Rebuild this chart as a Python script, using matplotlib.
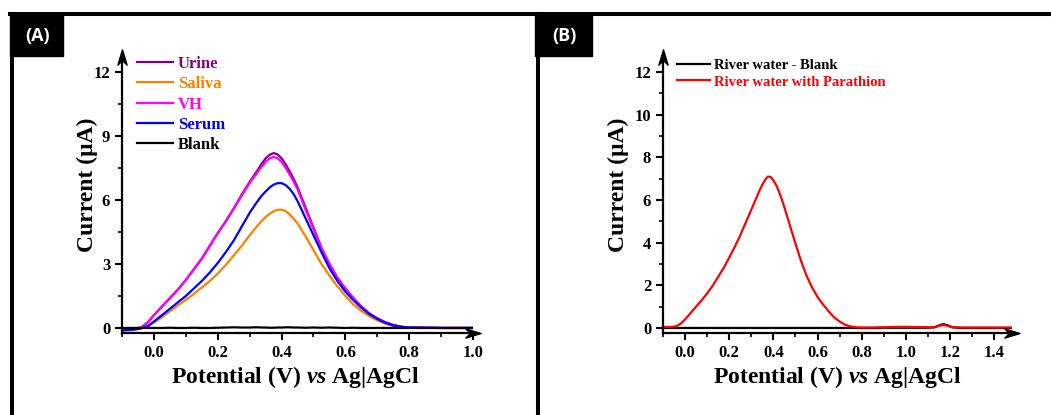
import matplotlib
matplotlib.use("Agg")
import matplotlib.pyplot as plt
from matplotlib.lines import Line2D
from matplotlib.patches import Rectangle
from matplotlib.path import Path
from matplotlib.ticker import MultipleLocator, FormatStrFormatter

plt.rcParams['font.family'] = 'Liberation Serif'
plt.rcParams['font.weight'] = 'bold'
plt.rcParams['mathtext.fontset'] = 'custom'
plt.rcParams['mathtext.it'] = 'Liberation Serif:italic:bold'
plt.rcParams['mathtext.rm'] = 'Liberation Serif:bold'

# ---- (A) DPV in biological fluids ----
pot_a = [-0.10, -0.06, -0.04, -0.02, 0.0, 0.025, 0.05, 0.075, 0.10, 0.125,
         0.15, 0.175, 0.20, 0.225, 0.25, 0.275, 0.30, 0.3125, 0.325, 0.3375,
         0.35, 0.3625, 0.375, 0.3875, 0.40, 0.4125, 0.425, 0.4375, 0.45, 0.475,
         0.50, 0.525, 0.55, 0.575, 0.60, 0.625, 0.65, 0.675, 0.70, 0.725,
         0.75, 0.775, 0.80, 0.85, 0.90, 1.00]

urine = [-0.05, -0.02, 0.02, 0.25, 0.6, 1.0, 1.4, 1.8, 2.25, 2.75,
         3.25, 3.85, 4.45, 5.0, 5.6, 6.25, 6.85, 7.13, 7.4, 7.7,
         7.95, 8.12, 8.2, 8.14, 7.95, 7.68, 7.35, 7.0, 6.6, 5.65,
         4.7, 3.75, 3.0, 2.35, 1.85, 1.4, 1.0, 0.68, 0.45, 0.27,
         0.14, 0.06, 0.02, 0.01, 0.0, 0.0]

saliva = [-0.05, -0.03, 0.0, 0.08, 0.25, 0.5, 0.78, 1.05, 1.32, 1.6,
          1.9, 2.2, 2.55, 2.95, 3.4, 3.85, 4.35, 4.58, 4.8, 5.02,
          5.2, 5.36, 5.47, 5.54, 5.55, 5.48, 5.33, 5.13, 4.9, 4.3,
          3.65, 3.0, 2.45, 1.95, 1.5, 1.1, 0.8, 0.55, 0.35, 0.2,
          0.1, 0.04, 0.01, 0.0, 0.0, 0.0]

vh = [-0.05, -0.02, 0.02, 0.25, 0.6, 1.0, 1.4, 1.8, 2.25, 2.75,
      3.25, 3.85, 4.45, 5.0, 5.6, 6.2, 6.8, 7.06, 7.3, 7.56,
      7.78, 7.95, 8.02, 7.96, 7.78, 7.52, 7.2, 6.87, 6.5, 5.55,
      4.65, 3.75, 3.0, 2.35, 1.85, 1.4, 1.0, 0.68, 0.45, 0.27,
      0.14, 0.06, 0.02, 0.01, 0.0, 0.0]

serum = [-0.12, -0.08, -0.02, 0.08, 0.3, 0.6, 0.9, 1.2, 1.5, 1.85,
         2.2, 2.6, 3.05, 3.55, 4.1, 4.75, 5.4, 5.68, 5.95, 6.2,
         6.4, 6.58, 6.72, 6.79, 6.79, 6.7, 6.53, 6.28, 5.95, 5.15,
         4.35, 3.55, 2.8, 2.2, 1.7, 1.3, 0.95, 0.65, 0.42, 0.24,
         0.12, 0.05, 0.02, 0.01, 0.0, 0.0]

blank_a = [0.0, 0.0, 0.0, 0.0, 0.0, 0.0, 0.01, 0.0, 0.0, 0.01,
           0.0, 0.0, 0.01, 0.02, 0.03, 0.02, 0.02, 0.03, 0.03, 0.02,
           0.02, 0.01, 0.01, 0.02, 0.02, 0.03, 0.03, 0.02, 0.02, 0.01,
           0.02, 0.01, 0.02, 0.01, 0.0, 0.01, 0.0, 0.0, 0.0, 0.0,
           0.0, 0.0, 0.0, 0.0, 0.0, 0.0]

series_a = [("Urine", urine, "#800080"),
            ("Saliva", saliva, "#ff8000"),
            ("VH", vh, "#ff00ff"),
            ("Serum", serum, "#0000ff"),
            ("Blank", blank_a, "#000000")]

# ---- (B) river water sample ----
pot_b = [-0.10, -0.06, -0.04, -0.02, 0.0, 0.025, 0.05, 0.075, 0.10, 0.125,
         0.15, 0.175, 0.20, 0.225, 0.25, 0.275, 0.30, 0.325, 0.3375, 0.35,
         0.3625, 0.375, 0.3875, 0.40, 0.4125, 0.425, 0.4375, 0.45, 0.475, 0.50,
         0.525, 0.55, 0.575, 0.60, 0.625, 0.65, 0.675, 0.70, 0.725, 0.75,
         0.775, 0.80, 0.85, 0.90, 0.95, 1.00, 1.05, 1.10, 1.13, 1.15,
         1.17, 1.19, 1.21, 1.25, 1.30, 1.40, 1.48]

parathion = [0.05, 0.05, 0.08, 0.2, 0.4, 0.7, 1.0, 1.3, 1.62, 1.98,
             2.4, 2.82, 3.3, 3.8, 4.35, 4.95, 5.55, 6.15, 6.45, 6.72,
             6.95, 7.1, 7.08, 6.92, 6.7, 6.4, 6.05, 5.65, 4.8, 3.95,
             3.15, 2.45, 1.9, 1.45, 1.1, 0.78, 0.5, 0.3, 0.15, 0.07,
             0.03, 0.02, 0.02, 0.03, 0.05, 0.05, 0.04, 0.03, 0.04, 0.1,
             0.14, 0.1, 0.04, 0.02, 0.02, 0.02, 0.02]

blank_b = [0.0, 0.0, 0.0, 0.0, 0.0, 0.0, 0.0, 0.0, 0.0, 0.0,
           0.0, 0.0, 0.0, 0.0, 0.0, 0.0, 0.0, 0.0, 0.0, 0.0,
           0.0, 0.0, 0.0, 0.0, 0.0, 0.0, 0.0, 0.0, 0.0, 0.0,
           0.0, 0.0, 0.0, 0.0, 0.0, 0.0, 0.0, 0.0, 0.0, 0.0,
           0.0, 0.0, 0.0, 0.01, 0.01, 0.01, 0.01, 0.01, 0.03, 0.12,
           0.18, 0.12, 0.03, 0.0, 0.0, 0.0, 0.0]

series_b = [("River water - Blank", blank_b, "#000000"),
            ("River water with Parathion", parathion, "#ff0000")]

# notched arrow head used at the end of both axes
arrow_up = Path([(0, 0.5), (-0.3, -0.5), (0, -0.2), (0.3, -0.5), (0, 0.5)],
                [Path.MOVETO, Path.LINETO, Path.LINETO, Path.LINETO, Path.CLOSEPOLY])
arrow_right = Path([(0.5, 0), (-0.5, 0.3), (-0.2, 0), (-0.5, -0.3), (0.5, 0)],
                   [Path.MOVETO, Path.LINETO, Path.LINETO, Path.LINETO, Path.CLOSEPOLY])


def style_axes(ax, xmax, xlast, ymajor):
    ax.set_xlim(-0.1, xmax)
    ax.set_ylim(-0.25, 12.7)
    ax.xaxis.set_minor_locator(MultipleLocator(0.1))
    ax.yaxis.set_major_locator(MultipleLocator(ymajor))
    ax.yaxis.set_minor_locator(MultipleLocator(ymajor / 2))
    ax.set_xticks([t / 10 for t in range(0, int(round(xlast * 10)) + 1, 2)])
    ax.xaxis.set_major_formatter(FormatStrFormatter("%.1f"))
    for side in ["top", "right"]:
        ax.spines[side].set_visible(False)
    for side in ["left", "bottom"]:
        ax.spines[side].set_linewidth(1.6)
    ax.tick_params(which="major", direction="out", length=5, width=1.5,
                   labelsize=12, pad=3.5)
    ax.tick_params(which="minor", direction="out", length=3, width=1.2)
    ax.plot([0], [1], marker=arrow_up, ms=11, color="k",
            transform=ax.transAxes, clip_on=False)
    ax.plot([1], [0], marker=arrow_right, ms=11, color="k",
            transform=ax.transAxes, clip_on=False)
    ax.set_ylabel("Current (\u03bcA)", fontsize=17, fontweight="bold")
    ax.set_xlabel(r"Potential (V) $\mathit{vs}$ Ag|AgCl", fontsize=17,
                  fontweight="bold")
    ax.xaxis.label.set_va("center")
    ax.yaxis.label.set_va("center")


fig = plt.figure(figsize=(10.51, 4.15), dpi=100)

ax1 = fig.add_axes([0.1161, 0.1969, 0.334, 0.6655])
for name, vals, col in series_a:
    ax1.plot(pot_a, vals, color=col, lw=1.6, label=name)
style_axes(ax1, 1.0, 1.0, 3)
ax1.yaxis.set_label_coords(-0.10, 0.537)
ax1.xaxis.set_label_coords(0.493, -0.158)
ax1.legend(loc="upper left", bbox_to_anchor=(0.042, 1.004), frameon=False,
           borderpad=0, borderaxespad=0, handlelength=2.2,
           handletextpad=0.25, labelspacing=0.26, labelcolor="linecolor",
           prop={"size": 12, "weight": "bold"})

ax2 = fig.add_axes([0.6308, 0.1969, 0.332, 0.6655])
for name, vals, col in series_b:
    ax2.plot(pot_b, vals, color=col, lw=1.6, label=name)
style_axes(ax2, 1.48, 1.4, 2)
ax2.yaxis.set_label_coords(-0.129, 0.537)
ax2.xaxis.set_label_coords(0.501, -0.158)
ax2.legend(loc="upper left", bbox_to_anchor=(0.04, 0.995), frameon=False,
           borderpad=0, borderaxespad=0, handlelength=2.3,
           handletextpad=0.25, labelspacing=0.25, labelcolor="linecolor",
           prop={"size": 10.5, "weight": "bold"})

# panel frame and corner tags
W, H = 1051.0, 415.0
fig.add_artist(Line2D([10 / W, 1.0], [1 - 14.5 / H, 1 - 14.5 / H], color="k",
                      lw=2.9, transform=fig.transFigure))
for xl in [11.5, 537.5]:
    fig.add_artist(Line2D([xl / W, xl / W], [0, 1 - 14.5 / H], color="k",
                          lw=2.9, transform=fig.transFigure))
for x0, w, tag in [(10, 53, "(A)"), (535, 57, "(B)")]:
    fig.add_artist(Rectangle((x0 / W, 1 - 56 / H), w / W, 43 / H, color="k",
                             transform=fig.transFigure))
    fig.text((x0 + w / 2 + 1) / W, 1 - 36 / H, tag, color="white",
             fontsize=13, fontweight="bold", family="Open Sans",
             ha="center", va="center")

fig.savefig("out.png", dpi=100)
